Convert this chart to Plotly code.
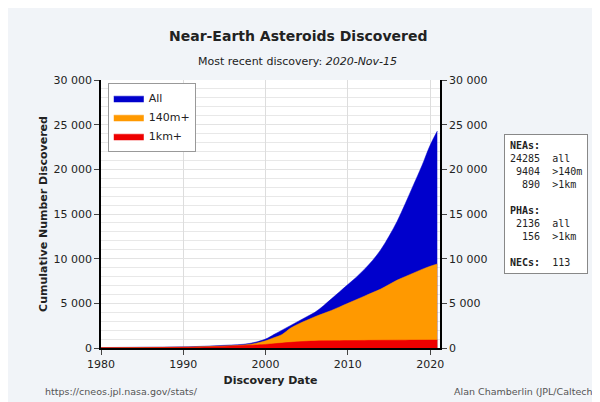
import plotly.graph_objects as go

years = [1980, 1985, 1990, 1995, 1998, 2000, 2001, 2002, 2003, 2004, 2005, 2006, 2007, 2008, 2009, 2010, 2011, 2012, 2013, 2014, 2015, 2016, 2017, 2018, 2019, 2020, 2020.87]
all_neas = [50, 90, 130, 300, 500, 1000, 1500, 2000, 2500, 3000, 3500, 4000, 4700, 5500, 6300, 7100, 7900, 8800, 9800, 11000, 12500, 14200, 16200, 18300, 20400, 22700, 24285]
m140 = [30, 60, 100, 230, 400, 800, 1150, 1500, 2200, 2700, 3100, 3500, 3850, 4200, 4600, 5000, 5400, 5800, 6200, 6600, 7100, 7600, 8000, 8400, 8800, 9150, 9404]
km1 = [20, 40, 70, 180, 300, 400, 480, 550, 630, 700, 750, 780, 800, 810, 820, 830, 840, 850, 858, 865, 870, 875, 878, 882, 886, 889, 890]
xticks = [1980, 1990, 2000, 2010, 2020]
yticks = [0, 5000, 10000, 15000, 20000, 25000, 30000]
ylabels = ["0", "5 000", "10 000", "15 000", "20 000", "25 000", "30 000"]

fig = go.Figure()
for name, ys, col in [("All", all_neas, "#0000cc"), ("140m+", m140, "#ff9900"), ("1km+", km1, "#ee0000")]:
    fig.add_trace(go.Scatter(x=years, y=ys, name=name, mode="lines", fill="tozeroy",
                             line=dict(color=col, width=0.5, shape="spline"), fillcolor=col))
fig.add_trace(go.Scatter(x=[years[0]], y=[0], yaxis="y2", showlegend=False, mode="markers",
                         marker=dict(opacity=0)))

axfont = dict(family="DejaVu Sans", size=11, color="#222")
fig.update_layout(
    width=600, height=402, paper_bgcolor="#f1f4f8", plot_bgcolor="white",
    margin=dict(l=93, r=168, t=72, b=62),
    font=axfont,
    xaxis=dict(range=[1980, 2021.2], tickvals=xticks, showgrid=True, gridcolor="#dddddd",
               ticks="outside", linecolor="black", linewidth=1.5, zeroline=False,
               title=dict(text="<b>Discovery Date</b>", standoff=6, font=dict(size=11))),
    yaxis=dict(range=[0, 30000], tickvals=yticks, ticktext=ylabels, ticks="outside",
               showgrid=True, gridcolor="#e3e3e3", linecolor="black", linewidth=1.5,
               zeroline=False, title=dict(text="<b>Cumulative Number Discovered</b>", standoff=4, font=dict(size=11)),
               minor=dict(dtick=1000, showgrid=True, gridcolor="#e8e8e8")),
    yaxis2=dict(range=[0, 30000], tickvals=yticks, ticktext=ylabels, overlaying="y", side="right",
                ticks="outside", showgrid=False, linecolor="black", linewidth=1.5, showline=True,
                zeroline=False),
    legend=dict(x=0.02, y=0.99, xanchor="left", yanchor="top", bgcolor="white",
                bordercolor="#999", borderwidth=1, font=dict(family="DejaVu Sans", size=11)),
    showlegend=True,
)
fig.add_annotation(text="<b>Near-Earth Asteroids Discovered</b>", xref="paper", yref="paper",
                   x=0.58, y=1.2, showarrow=False, font=dict(size=14, family="DejaVu Sans"))
fig.add_annotation(text="Most recent discovery: <i>2020-Nov-15</i>", xref="paper", yref="paper",
                   x=0.58, y=1.1, showarrow=False, font=dict(size=11, family="DejaVu Sans"))
box = ("<b>NEAs:</b><br>24285  all<br> 9404  >140m<br>  890  >1km<br><br>"
       "<b>PHAs:</b><br> 2136  all<br>  156  >1km<br><br><b>NECs:</b>  113")
fig.add_annotation(text=box, xref="paper", yref="paper", x=1.19, y=0.80, xanchor="left",
                   yanchor="top", showarrow=False, align="left", bgcolor="white",
                   bordercolor="#888", borderwidth=1, borderpad=5,
                   font=dict(family="DejaVu Sans Mono", size=10, color="#222"))
fig.add_annotation(text="https://cneos.jpl.nasa.gov/stats/", xref="paper", yref="paper",
                   x=-0.17, y=-0.19, xanchor="left", showarrow=False,
                   font=dict(size=9.5, color="#555"))
fig.add_annotation(text="Alan Chamberlin (JPL/Caltech)", xref="paper", yref="paper",
                   x=1.466, y=-0.19, xanchor="right", showarrow=False,
                   font=dict(size=9.5, color="#555"))
fig.write_html("out.html")
